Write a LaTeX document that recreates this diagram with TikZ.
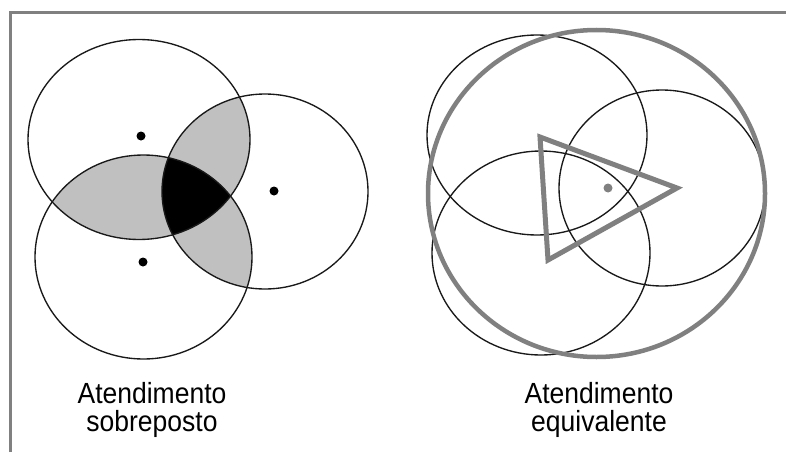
\documentclass[tikz,border=0pt]{standalone}
\usepackage{fontspec}
\setmainfont{Liberation Sans}
\usepackage{graphicx}
\definecolor{framegray}{RGB}{128,128,128}
\definecolor{lensgray}{RGB}{192,192,192}
\definecolor{thickgray}{RGB}{128,128,128}
\newcommand{\twolines}[2]{\scalebox{1}[1.1]{\begin{tabular}[t]{@{}c@{}}#1\\#2\end{tabular}}}
\begin{document}
\begin{tikzpicture}[x=1pt,y=-1pt,
  ring/.style={draw=black!90, line width=1.35pt},
  bigring/.style={draw=thickgray, line width=4.5pt},
  tri/.style={draw=thickgray, line width=5pt, line join=miter},
  lbl/.style={font=\fontsize{26.5}{21}\selectfont, inner sep=0pt, anchor=base, text=black},
  framestyle/.style={draw=framegray, line width=3pt}]
\useasboundingbox (0,0) rectangle (786,452);
\fill[white] (0,0) rectangle (786,452);
% frame
\draw[framestyle] (10,452) -- (10,13) -- (786,13);

% ---- left panel: overlapping coverage ----
\begin{scope}
  \clip (139,139.5) ellipse [x radius=111pt, y radius=100pt];
  \fill[lensgray] (143.5,257) ellipse [x radius=108.5pt, y radius=102pt];
  \fill[lensgray] (265,191.5) ellipse [x radius=103pt, y radius=97.5pt];
\end{scope}
\begin{scope}
  \clip (143.5,257) ellipse [x radius=108.5pt, y radius=102pt];
  \fill[lensgray] (265,191.5) ellipse [x radius=103pt, y radius=97.5pt];
\end{scope}
\begin{scope}
  \clip (139,139.5) ellipse [x radius=111pt, y radius=100pt];
  \clip (143.5,257) ellipse [x radius=108.5pt, y radius=102pt];
  \fill[black] (265,191.5) ellipse [x radius=103pt, y radius=97.5pt];
\end{scope}
\draw[ring] (139,139.5) ellipse [x radius=111pt, y radius=100pt];
\draw[ring] (143.5,257) ellipse [x radius=108.5pt, y radius=102pt];
\draw[ring] (265,191.5) ellipse [x radius=103pt, y radius=97.5pt];
\fill[black] (141,136) circle [radius=4.5pt];
\fill[black] (143,262) circle [radius=4.5pt];
\fill[black] (274,191) circle [radius=4.5pt];

\node[lbl] (l1) at (152,403) {\twolines{Atendimento}{sobreposto}};

% ---- right panel: equivalent coverage ----
\draw[ring] (537,135) ellipse [x radius=110pt, y radius=100pt];
\draw[ring] (541,253) ellipse [x radius=109pt, y radius=102pt];
\draw[ring] (662,188) ellipse [x radius=103pt, y radius=98pt];
\draw[bigring] (596.5,193.5) ellipse [x radius=168.5pt, y radius=163.5pt];
\draw[tri] (540,137) -- (677,188) -- (548,260) -- cycle;
\fill[thickgray] (608,188) circle [radius=4.5pt];

\node[lbl] (l2) at (599,403) {\twolines{Atendimento}{equivalente}};
\end{tikzpicture}
\end{document}
